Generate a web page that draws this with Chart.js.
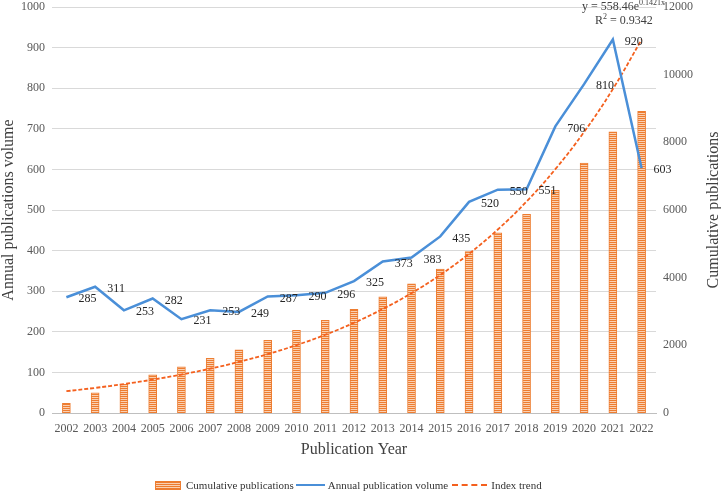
<!DOCTYPE html>
<html>
<head>
<meta charset="utf-8">
<script src="https://cdn.jsdelivr.net/npm/chart.js@4.4.1/dist/chart.umd.min.js"></script>
<style>
  body { margin: 0; background: #fff; }
  #wrap { position: relative; width: 721px; height: 493px; }
  #legend { position: absolute; left: 155px; top: 478px; height: 14px; display: flex; align-items: center;
            font: 11px "Liberation Serif", serif; color: #333; white-space: nowrap; }
  .sw-bar { display: inline-block; width: 24px; height: 7px; border: 1px solid #ED7D31;
            background: repeating-linear-gradient(to bottom, #ED7D31 0 1px, #FAD0B2 1px 2px); margin-right: 5px; }
  .sw-line { display: inline-block; width: 29px; border-top: 2px solid #4A8FD8; margin: 0 3px 0 2px; }
  .sw-dash { display: inline-block; width: 35px; border-top: 2px dashed #F4601E; margin: 0 4px 0 4px; }
</style>
</head>
<body>
<div id="wrap">
  <canvas id="chart" width="721" height="493"></canvas>
  <div id="legend">
    <span class="sw-bar"></span><span>Cumulative publications</span>
    <span class="sw-line"></span><span>Annual publication volume</span>
    <span class="sw-dash"></span><span>Index trend</span>
  </div>
</div>
<script>
// data
const years = ['2002','2003','2004','2005','2006','2007','2008','2009','2010','2011','2012',
               '2013','2014','2015','2016','2017','2018','2019','2020','2021','2022'];
const annualVolume = [285,311,253,282,231,253,249,287,290,296,325,373,383,435,520,550,551,706,810,920,603];
const cumulativePubs = [285,596,849,1131,1362,1615,1864,2151,2441,2737,3062,3435,3818,4253,4773,5323,5874,6580,7390,8310,8913];
const indexTrend = [644,742,855,986,1136,1310,1510,1740,2006,2312,2666,3073,3542,4082,4706,5424,6252,7207,8307,9576,11038];
const leftTicks = [0,100,200,300,400,500,600,700,800,900,1000];
const rightTicks = [0,2000,4000,6000,8000,10000,12000];

const ORANGE = '#ED7D31';
const BLUE = '#4A8FD8';
const TREND = '#F4601E';
const SERIF = '"Liberation Serif", "Times New Roman", serif';

// striped fill for the bars
function stripePattern() {
  const c = document.createElement('canvas');
  c.width = 4; c.height = 2;
  const g = c.getContext('2d');
  g.fillStyle = ORANGE; g.fillRect(0, 0, 4, 1);
  g.fillStyle = '#FAD0B2'; g.fillRect(0, 1, 4, 1);
  return g.createPattern(c, 'repeat');
}

const extraText = {
  id: 'extraText',
  afterDatasetsDraw(chart) {
    const ctx = chart.ctx;
    const meta = chart.getDatasetMeta(1);
    ctx.save();
    // value labels for annual volume
    ctx.font = '12px ' + SERIF;
    ctx.fillStyle = '#262626';
    ctx.textAlign = 'center';
    ctx.textBaseline = 'middle';
    meta.data.forEach((pt, i) => {
      ctx.fillText(String(annualVolume[i]), pt.x + 21, pt.y + 2);
    });
    // trend equation
    ctx.fillStyle = '#404040';
    ctx.textAlign = 'left';
    ctx.textBaseline = 'alphabetic';
    ctx.font = '12px ' + SERIF;
    let x = 582;
    ctx.fillText('y = 558.46e', x, 10);
    x += ctx.measureText('y = 558.46e').width;
    ctx.font = '8px ' + SERIF;
    ctx.fillText('0.1421x', x, 5);
    ctx.font = '12px ' + SERIF;
    x = 595;
    ctx.fillText('R', x, 24);
    x += ctx.measureText('R').width;
    ctx.font = '8px ' + SERIF;
    ctx.fillText('2', x, 19);
    x += ctx.measureText('2').width;
    ctx.font = '12px ' + SERIF;
    ctx.fillText(' = 0.9342', x, 24);
    // right axis title, reading bottom to top
    ctx.translate(714, 210);
    ctx.rotate(-Math.PI / 2);
    ctx.textAlign = 'center';
    ctx.textBaseline = 'middle';
    ctx.font = '16px ' + SERIF;
    ctx.fillStyle = '#404040';
    ctx.fillText('Cumulative publications', 0, 0);
    ctx.restore();
  }
};

const plainTick = v => String(v);

const ctx = document.getElementById('chart').getContext('2d');
new Chart(ctx, {
  type: 'bar',
  data: {
    labels: years,
    datasets: [{
      type: 'bar',
      label: 'Cumulative publications',
      data: cumulativePubs,
      yAxisID: 'y1',
      backgroundColor: stripePattern(),
      borderColor: ORANGE,
      borderWidth: {left: 1, right: 1, top: 1, bottom: 0},
      barThickness: 8,
      order: 3
    }, {
      type: 'line',
      label: 'Annual publication volume',
      data: annualVolume,
      yAxisID: 'y',
      borderColor: BLUE,
      borderWidth: 2.5,
      pointRadius: 0,
      tension: 0,
      fill: false,
      order: 1
    }, {
      type: 'line',
      label: 'Index trend',
      data: indexTrend,
      yAxisID: 'y1',
      borderColor: TREND,
      borderWidth: 1.8,
      borderDash: [4, 2],
      pointRadius: 0,
      tension: 0.4,
      fill: false,
      order: 2
    }]
  },
  options: {
    responsive: false,
    animation: false,
    layout: {padding: 0},
    plugins: {
      legend: {display: false},
      tooltip: {enabled: false}
    },
    scales: {
      x: {
        offset: true,
        grid: {display: false, drawTicks: false},
        border: {display: true, color: '#BFBFBF', width: 1},
        ticks: {color: '#595959', font: {family: SERIF, size: 12}, padding: 9, maxRotation: 0, autoSkip: false},
        title: {display: true, text: 'Publication Year', color: '#404040',
                font: {family: SERIF, size: 16, lineHeight: 1}, padding: {top: 0, bottom: 35}},
        afterFit(scale) { scale.height = 80; }
      },
      y: {
        position: 'left',
        min: leftTicks[0],
        max: leftTicks[leftTicks.length - 1],
        ticks: {stepSize: leftTicks[1] - leftTicks[0], color: '#595959', font: {family: SERIF, size: 12},
                padding: 7, callback: plainTick},
        grid: {color: '#D9D9D9', drawTicks: false},
        border: {display: false},
        title: {display: true, text: 'Annual publications volume', color: '#404040',
                font: {family: SERIF, size: 16, lineHeight: 1}, padding: {top: 1, bottom: 0}},
        afterFit(scale) { scale.width = 52; scale.paddingTop = 7; scale.paddingBottom = 7; }
      },
      y1: {
        position: 'right',
        min: rightTicks[0],
        max: rightTicks[rightTicks.length - 1],
        ticks: {stepSize: rightTicks[1] - rightTicks[0], color: '#595959', font: {family: SERIF, size: 12},
                padding: 7, callback: plainTick},
        grid: {display: false, drawTicks: false},
        border: {display: false},
        afterFit(scale) { scale.width = 65; scale.paddingTop = 7; scale.paddingBottom = 7; }
      }
    }
  },
  plugins: [extraText]
});
</script>
</body>
</html>
